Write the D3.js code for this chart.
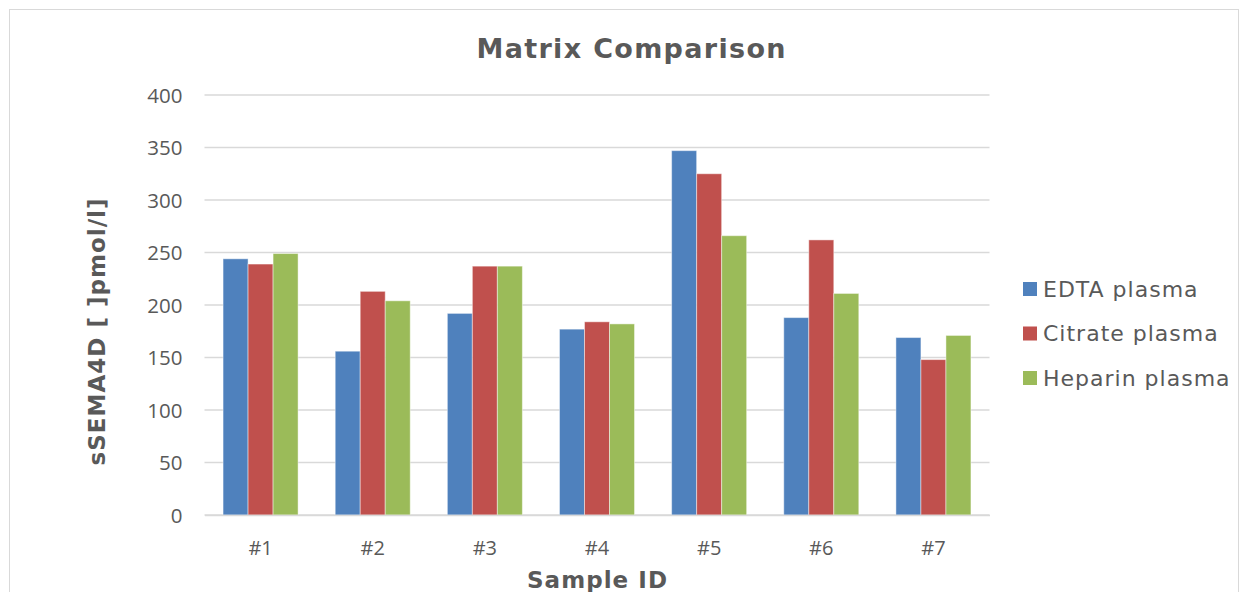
<!DOCTYPE html>
<html><head><meta charset="utf-8">
<script src="https://cdn.jsdelivr.net/npm/d3@7/dist/d3.min.js"></script>
<style>body{margin:0;background:#fff}svg{display:block}</style>
</head><body>
<svg id="chart" width="1245" height="592"></svg>
<script>
const categories = ["#1","#2","#3","#4","#5","#6","#7"];
const seriesNames = ["EDTA plasma","Citrate plasma","Heparin plasma"];
const edta    = [244,156,192,177,347,188,169];
const citrate = [239,213,237,184,325,262,148];
const heparin = [249,204,237,182,266,211,171];
const yTicks  = [0,50,100,150,200,250,300,350,400];
const colors  = ["#4F81BD","#C0504D","#9BBB59"];
const series = [edta, citrate, heparin];

const svg = d3.select("#chart");
const textColor = "#595959";
const plotLeft = 204.5, plotRight = 989.5, plotTop = 95, plotBottom = 515;

svg.append("rect").attr("x",9.5).attr("y",9.5).attr("width",1229).attr("height",600)
  .attr("fill","#fff").attr("stroke","#d9d9d9").attr("stroke-width",1);

const x = d3.scaleBand().domain(categories).range([plotLeft,plotRight]).paddingInner(0).paddingOuter(0);
const inner = x.bandwidth()*0.669;
const xs = d3.scaleBand().domain(d3.range(3)).range([0,inner]);
const y = d3.scaleLinear().domain([0,400]).range([plotBottom,plotTop]);

// gridlines
svg.append("g").selectAll("line").data(yTicks).join("line")
  .attr("x1",plotLeft).attr("x2",plotRight)
  .attr("y1",d=>y(d)).attr("y2",d=>y(d))
  .attr("stroke","#d9d9d9").attr("stroke-width",1.5);

// y tick labels
const yAxis = d3.axisLeft(y).tickValues(yTicks).tickSize(0).tickPadding(0);
const gy = svg.append("g").attr("transform",`translate(${plotLeft-22},0)`).call(yAxis);
gy.select(".domain").remove();
gy.selectAll("text").attr("fill",textColor).attr("font-family","'Open Sans', sans-serif").attr("font-size",20.5).attr("dy","0.36em");

// bars
const g = svg.append("g");
categories.forEach((c,i)=>{
  series.forEach((s,j)=>{
    g.append("rect")
      .attr("x", x(c) + (x.bandwidth()-inner)/2 + xs(j))
      .attr("y", y(s[i]))
      .attr("width", xs.bandwidth())
      .attr("height", y(0)-y(s[i]))
      .attr("fill", colors[j])
      .attr("stroke","rgba(255,255,255,0.45)").attr("stroke-width",1);
  });
});

// x axis
const xAxis = d3.axisBottom(x).tickSize(0).tickPadding(0);
const gx = svg.append("g").attr("transform",`translate(0,${plotBottom})`).call(xAxis);
gx.select(".domain").attr("stroke","#d9d9d9").attr("stroke-width",1.5);
gx.selectAll("text").attr("fill",textColor).attr("font-family","'Open Sans', sans-serif")
  .attr("font-size",20).attr("y",32.5).attr("dy","0.36em");

// title
svg.append("text").attr("x",631).attr("y",58).attr("text-anchor","middle")
  .attr("font-family","'DejaVu Sans', Verdana, sans-serif").attr("font-weight","bold")
  .attr("font-size",27).attr("textLength",309).attr("lengthAdjust","spacing")
  .attr("fill",textColor).text("Matrix Comparison");

// axis titles
svg.append("text").attr("x",597).attr("y",588).attr("text-anchor","middle")
  .attr("font-family","'DejaVu Sans', Verdana, sans-serif").attr("font-weight","bold")
  .attr("font-size",23).attr("textLength",140).attr("lengthAdjust","spacing")
  .attr("fill",textColor).text("Sample ID");
svg.append("text").attr("transform","translate(105,332) rotate(-90)").attr("text-anchor","middle")
  .attr("font-family","'DejaVu Sans', Verdana, sans-serif").attr("font-weight","bold")
  .attr("font-size",23).attr("textLength",267).attr("lengthAdjust","spacing")
  .attr("fill",textColor).text("sSEMA4D [ ]pmol/l]");

// legend
const lg = svg.append("g");
seriesNames.forEach((n,i)=>{
  const cy = 289 + i*44.5;
  lg.append("rect").attr("x",1023).attr("y",cy-7).attr("width",14).attr("height",14).attr("fill",colors[i]);
  lg.append("text").attr("x",1043).attr("y",cy).attr("dy","0.36em")
    .attr("font-family","'DejaVu Sans', Verdana, sans-serif").attr("font-size",22)
    .attr("letter-spacing",1)
    .attr("fill",textColor).text(n);
});
</script>
</body></html>
